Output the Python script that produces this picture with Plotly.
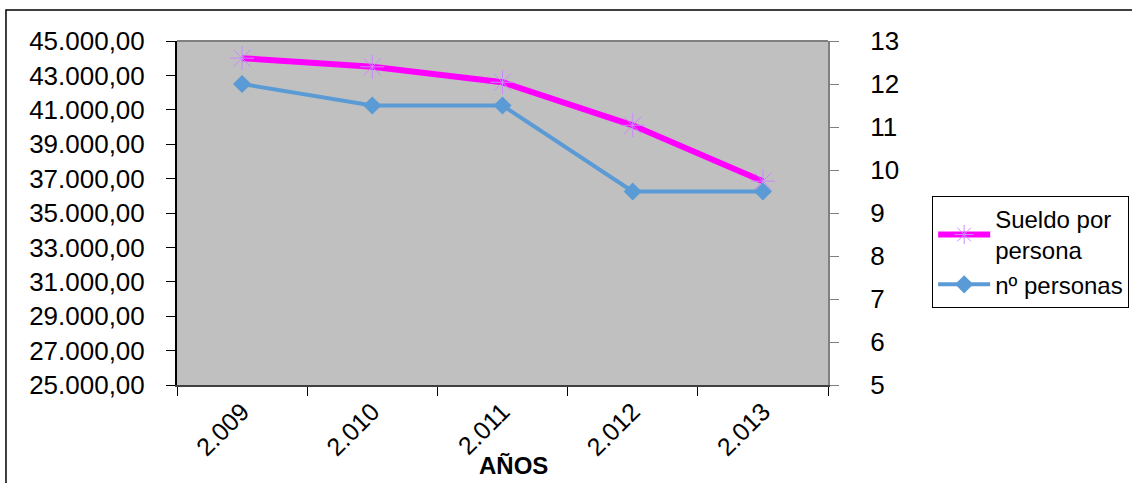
import plotly.graph_objects as go

years = ["2.009", "2.010", "2.011", "2.012", "2.013"]
sueldo = [44000, 43500, 42600, 40100, 36850]
personas = [12, 11.5, 11.5, 9.5, 9.5]

FONT = "Liberation Sans, Arial, sans-serif"

fig = go.Figure()

fig.add_trace(
    go.Scatter(
        x=years,
        y=sueldo,
        name="Sueldo por<br>persona",
        mode="lines+markers",
        line=dict(color="#FF00FF", width=6),
        marker=dict(
            symbol="asterisk-open",
            size=20,
            color="#CC88FF",
            line=dict(color="#CC88FF", width=1),
        ),
        yaxis="y",
    )
)

fig.add_trace(
    go.Scatter(
        x=years,
        y=personas,
        name="nº personas",
        mode="lines+markers",
        line=dict(color="#5B9BD5", width=4),
        marker=dict(symbol="diamond", size=14, color="#5B9BD5"),
        yaxis="y2",
    )
)

# outer chart border
fig.add_shape(
    type="rect",
    xref="paper",
    yref="paper",
    x0=-0.2627,
    x1=1.47,
    y0=-0.29,
    y1=1.0901,
    line=dict(color="black", width=1.5),
    fillcolor="rgba(0,0,0,0)",
    layer="below",
)

fig.add_annotation(
    text="<b>AÑOS</b>",
    xref="paper",
    yref="paper",
    x=0.517,
    y=-0.278,
    showarrow=False,
    font=dict(size=24, color="black", family=FONT),
)

fig.update_layout(
    width=1132,
    height=483,
    margin=dict(l=177, r=304, t=41, b=98, autoexpand=False),
    paper_bgcolor="white",
    plot_bgcolor="#C0C0C0",
    separators=",.",
    font=dict(family=FONT, color="black"),
    showlegend=True,
    legend=dict(
        x=1.16,
        y=0.55,
        xanchor="left",
        yanchor="top",
        bgcolor="white",
        bordercolor="black",
        borderwidth=1,
        font=dict(size=24, family=FONT),
        itemwidth=52,
        tracegroupgap=0,
    ),
    xaxis=dict(
        type="category",
        range=[-0.5, 4.5],
        tickson="boundaries",
        ticks="outside",
        ticklen=9,
        tickcolor="black",
        tickangle=-45,
        tickfont=dict(size=25),
        showline=True,
        linecolor="#404040",
        linewidth=2,
        mirror=False,
        showgrid=False,
        zeroline=False,
    ),
    yaxis=dict(
        range=[25000, 45000],
        tick0=25000,
        dtick=2000,
        tickformat=",.2f",
        ticks="outside",
        ticklen=9,
        tickcolor="black",
        tickfont=dict(size=26),
        ticklabelstandoff=16,
        showline=True,
        linecolor="black",
        linewidth=2,
        showgrid=False,
        zeroline=False,
    ),
    yaxis2=dict(
        range=[5, 13],
        dtick=1,
        overlaying="y",
        side="right",
        ticks="outside",
        ticklen=9,
        tickcolor="#808080",
        tickfont=dict(size=26),
        ticklabelstandoff=26,
        showline=True,
        linecolor="#808080",
        linewidth=2,
        showgrid=False,
        zeroline=False,
    ),
)

# top border of plot area
fig.add_shape(
    type="line",
    xref="paper",
    yref="paper",
    x0=0,
    x1=1,
    y0=1,
    y1=1,
    line=dict(color="#808080", width=2),
)

fig.write_html(
    "out.html",
    config={"displayModeBar": False},
    post_script="document.body.style.margin = '0';",
)
